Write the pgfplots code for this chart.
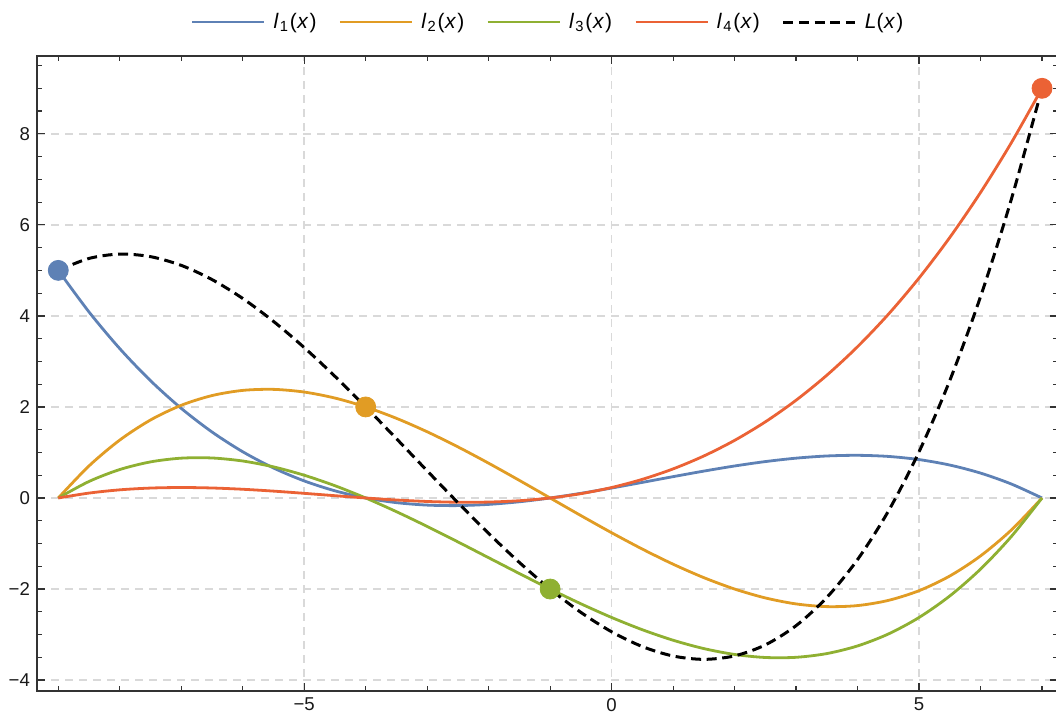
\documentclass[border=0pt]{standalone}
\usepackage{pgfplots}
\usepackage{pgfplotstable}
\pgfplotsset{compat=1.18}
\usepackage{fontspec}
\setmainfont{Liberation Sans}
\definecolor{c1}{rgb}{0.368417,0.506779,0.709798}
\definecolor{c2}{rgb}{0.880722,0.611041,0.142051}
\definecolor{c3}{rgb}{0.560181,0.691569,0.194885}
\definecolor{c4}{rgb}{0.922526,0.385626,0.209179}
\pgfplotstableread{
x f1 f2 f3 f4 L
-9 5 0 0 0 5
-8.5 4.0869 0.7045 0.3633 0.1079 5.2626
-8 3.2813 1.2727 0.625 0.1790 5.3580
-7.5 2.5771 1.7136 0.7930 0.2181 5.3018
-7 1.9688 2.0364 0.875 0.2301 5.1102
-6.5 1.4502 2.25 0.8789 0.2197 4.7988
-6 1.0156 2.3636 0.8125 0.1918 4.3835
-5.5 0.6592 2.3864 0.6836 0.1510 3.8802
-5 0.375 2.3273 0.5 0.1023 3.3046
-4.5 0.1572 2.1955 0.2695 0.0503 2.6725
-4 0 2 0 0 2
-3.5 -0.1025 1.75 -0.3008 -0.0439 1.3028
-3 -0.1563 1.4545 -0.625 -0.0767 0.5966
-2.5 -0.1670 1.1227 -0.9648 -0.0935 -0.1026
-2 -0.1406 0.7636 -1.3125 -0.0895 -0.7790
-1.5 -0.0830 0.3864 -1.6602 -0.0599 -1.4167
-1 0 0 -2 0 -2
-0.5 0.1025 -0.3864 -2.3242 0.0951 -2.5130
0 0.2188 -0.7636 -2.625 0.2301 -2.9398
0.5 0.3428 -1.1227 -2.8945 0.4099 -3.2645
1 0.4688 -1.4545 -3.125 0.6392 -3.4716
1.5 0.5908 -1.75 -3.3086 0.9229 -3.5449
2 0.7031 -2 -3.4375 1.2656 -3.4688
2.5 0.7998 -2.1955 -3.5039 1.6723 -3.2273
3 0.875 -2.3273 -3.5 2.1477 -2.8046
3.5 0.9229 -2.3864 -3.4180 2.6967 -2.1848
4 0.9375 -2.3636 -3.25 3.3239 -1.3522
4.5 0.9131 -2.25 -2.9883 4.0342 -0.2910
5 0.8438 -2.0364 -2.625 4.8324 1.0148
5.5 0.7236 -1.7136 -2.1523 5.7233 2.5810
6 0.5469 -1.2727 -1.5625 6.7116 4.4233
6.5 0.3076 -0.7045 -0.8477 7.8023 6.5577
7 0 0 0 9 9
}\data
\newcommand{\li}[1]{\textit{l}\kern0.6pt\textsubscript{#1}\kern0.4pt(\kern0.3pt\textit{x}\kern0.5pt)}
\begin{document}
\begin{tikzpicture}
\begin{axis}[
  scale only axis, width=510.5pt, height=317.5pt,
  at={(0,0)}, anchor=south west,
  xmin=-9.346, xmax=7.26, ymin=-4.24, ymax=9.71,
  xtick={-5,0,5}, xticklabels={−5,0,5},
  ytick={-4,-2,0,2,4,6,8}, yticklabels={−4,−2,0,2,4,6,8},
  minor xtick={-9,-8,-7,-6,-4,-3,-2,-1,1,2,3,4,6,7},
  minor ytick={-3.5,-3,-2.5,-1.5,-1,-0.5,0.5,1,1.5,2.5,3,3.5,4.5,5,5.5,6.5,7,7.5,8.5,9,9.5},
  grid=major,
  major grid style={black!15, line width=0.75pt, dash pattern=on 4pt off 3pt},
  tick align=inside, major tick length=4pt, minor tick length=2.5pt,
  tick style={black!80, line width=0.6pt},
  axis line style={black!80, line width=1pt},
  ticklabel style={font=\fontsize{9.3}{10}\selectfont, text=black!90},
  legend columns=5,
  legend style={draw=none, fill=none, at={(0.5015,1.0535)}, anchor=center,
    font=\fontsize{10.5}{12}\selectfont,
    /tikz/every odd column/.append style={column sep=2pt},
    /tikz/every even column/.append style={column sep=9pt}},
  legend image code/.code={\draw[#1] (0pt,0pt) -- (36pt,0pt);},
]
\addplot[c1, line width=1.4pt, smooth] table[x=x,y=f1]{\data};
\addlegendentry{\li{1}}
\addplot[c2, line width=1.4pt, smooth] table[x=x,y=f2]{\data};
\addlegendentry{\li{2}}
\addplot[c3, line width=1.4pt, smooth] table[x=x,y=f3]{\data};
\addlegendentry{\li{3}}
\addplot[c4, line width=1.4pt, smooth] table[x=x,y=f4]{\data};
\addlegendentry{\li{4}}
\addplot[black, line width=1.5pt, dash pattern=on 5pt off 2.8pt, smooth] table[x=x,y=L]{\data};
\addlegendentry{\textit{L}(\kern0.3pt\textit{x}\kern0.5pt)}
\addplot[only marks, mark=*, mark size=5pt, color=c1, forget plot] coordinates {(-9,5)};
\addplot[only marks, mark=*, mark size=5pt, color=c2, forget plot] coordinates {(-4,2)};
\addplot[only marks, mark=*, mark size=5pt, color=c3, forget plot] coordinates {(-1,-2)};
\addplot[only marks, mark=*, mark size=5pt, color=c4, forget plot] coordinates {(7,9)};
\end{axis}
\pgfresetboundingbox
\path (-18.5pt,-13pt) rectangle (509.5pt,345.5pt);
\end{tikzpicture}
\end{document}
